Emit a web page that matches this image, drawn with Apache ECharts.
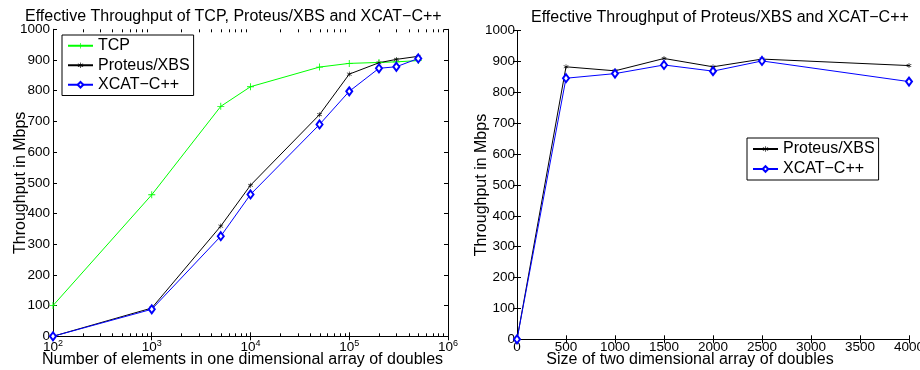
<!DOCTYPE html>
<html>
<head>
<meta charset="utf-8">
<script src="https://cdn.jsdelivr.net/npm/echarts@6/dist/echarts.min.js"></script>
<style>html,body{margin:0;padding:0;background:#fff}#c{width:920px;height:370px}</style>
</head>
<body>
<div id="c"></div>
<script>
// ---- Left chart data (log x axis) ----
const sizes1D = [100, 1000, 5000, 10000, 50000, 100000, 200000, 300000, 500000];
const tcpVals = [100, 461, 749, 813, 877, 889, 892, 894, 898];
const proteus1D = [0, 92, 359, 492, 722, 854, 891, 902, 912];
const xcat1D = [0, 88, 326, 462, 690, 798, 873, 878, 905];
const minorTickVals = [200,300,400,500,600,700,800,900,2000,3000,4000,5000,6000,7000,8000,9000,20000,30000,40000,50000,60000,70000,80000,90000,200000,300000,400000,500000,600000,700000,800000,900000];

// ---- Right chart data ----
const sizes2D = [0, 500, 1000, 1500, 2000, 2500, 4000];
const proteus2D = [0, 883, 870, 910, 883, 908, 887];
const xcat2D = [0, 846, 861, 889, 869, 902, 835];

const titles = ['Effective Throughput of TCP, Proteus/XBS and XCAT\u2212C++', 'Effective Throughput of Proteus/XBS and XCAT\u2212C++'];
const xNames = ['Number of elements in one dimensional array of doubles', 'Size of two dimensional array of doubles'];
const yName = 'Throughput in Mbps';
const names = ['TCP', 'Proteus/XBS', 'XCAT\u2212C++'];

const FF = '"Liberation Sans", Arial, Helvetica, sans-serif';
const TICK_FS = 13.5;
const pair = (xs, ys) => xs.map((x, i) => [x, ys[i]]);
const plusPath = 'path://M4.4,0H5.6V4.4H10V5.6H5.6V10H4.4V5.6H0V4.4H4.4Z';
const starPath = 'path://M4.5,0H5.5V3.8L8.8,1.9L9.3,2.8L6,4.9V5.1L9.3,7.2L8.8,8.1L5.5,6.2V10H4.5V6.2L1.2,8.1L0.7,7.2L4,5.1V4.9L0.7,2.8L1.2,1.9L4.5,3.8Z';

const axisLine = {show: true, lineStyle: {color: '#000', width: 1}};
const tickIn = {show: true, inside: true, length: 4, lineStyle: {color: '#000', width: 1}};
const plain = v => String(v);

function yAxes(gridIndex, labelMargin, nameGap) {
  return [
    {type: 'value', gridIndex, min: 0, max: 1000, interval: 100, position: 'left',
     name: yName, nameLocation: 'middle', nameGap, nameRotate: 90, nameMoveOverlap: false,
     nameTextStyle: {fontFamily: FF, fontSize: 16, color: '#000'},
     axisLine, axisTick: tickIn, splitLine: {show: false},
     axisLabel: {fontFamily: FF, fontSize: TICK_FS, color: '#000', margin: labelMargin, formatter: plain}},
    {type: 'value', gridIndex, min: 0, max: 1000, interval: 100, position: 'right',
     axisLine, axisTick: tickIn, splitLine: {show: false}, axisLabel: {show: false}}
  ];
}

const option = {
  backgroundColor: '#fff',
  animation: false,
  title: [
    {text: titles[0], left: 25, top: 9, padding: 0, textStyle: {fontFamily: FF, fontSize: 16, fontWeight: 'normal', color: '#000'}},
    {text: titles[1], left: 531, top: 10, padding: 0, textStyle: {fontFamily: FF, fontSize: 16, fontWeight: 'normal', color: '#000'}}
  ],
  grid: [
    {left: 53, top: 29.3, width: 395, height: 307, outerBoundsMode: 'none', containLabel: false},
    {left: 517, top: 30.7, width: 392, height: 308.6, outerBoundsMode: 'none', containLabel: false}
  ],
  legend: [
    {data: names, orient: 'vertical', left: 62, top: 35, itemWidth: 25, itemHeight: 7, itemGap: 0,
     padding: [1, 4, 1, 5], borderColor: '#000', borderWidth: 1, backgroundColor: '#fff',
     textStyle: {fontFamily: FF, fontSize: 16, color: '#000', lineHeight: 19.5}},
    {data: names.slice(1), orient: 'vertical', left: 747, top: 138, itemWidth: 25, itemHeight: 7, itemGap: 0,
     padding: [1, 4, 1, 5], borderColor: '#000', borderWidth: 1, backgroundColor: '#fff',
     textStyle: {fontFamily: FF, fontSize: 16, color: '#000', lineHeight: 20}}
  ],
  xAxis: [
    {type: 'log', gridIndex: 0, logBase: 10, min: 100, max: 1000000, position: 'bottom',
     name: xNames[0], nameLocation: 'middle', nameGap: 15, nameMoveOverlap: false,
     nameTextStyle: {fontFamily: FF, fontSize: 16, color: '#000', padding: [0, 16, 0, 0]},
     axisLine, axisTick: tickIn, splitLine: {show: false}, minorTick: {show: false},
     axisLabel: {color: '#000', margin: 3,
       formatter: v => '{b|10}{s|' + Math.round(Math.log10(v)) + '}',
       rich: {b: {fontFamily: FF, fontSize: TICK_FS, lineHeight: 16, color: '#000'},
              s: {fontFamily: FF, fontSize: 9, lineHeight: 16, verticalAlign: 'top', color: '#000'}}}},
    {type: 'log', gridIndex: 0, logBase: 10, min: 100, max: 1000000, position: 'top',
     axisLine, axisTick: tickIn, splitLine: {show: false}, axisLabel: {show: false}},
    {type: 'value', gridIndex: 1, min: 0, max: 4000, interval: 500, position: 'bottom',
     name: xNames[1], nameLocation: 'middle', nameGap: 12, nameMoveOverlap: false,
     nameTextStyle: {fontFamily: FF, fontSize: 16, color: '#000', padding: [0, 46, 0, 0]},
     axisLine, axisTick: tickIn, splitLine: {show: false},
     axisLabel: {fontFamily: FF, fontSize: TICK_FS, color: '#000', margin: 1, formatter: plain}},
    {type: 'value', gridIndex: 1, min: 0, max: 4000, interval: 500, position: 'top',
     axisLine, axisTick: tickIn, splitLine: {show: false}, axisLabel: {show: false}}
  ],
  yAxis: [].concat(yAxes(0, 3, 24), yAxes(1, 2, 27)),
  series: [
    {name: names[0], type: 'line', xAxisIndex: 0, yAxisIndex: 0, data: pair(sizes1D, tcpVals),
     symbol: plusPath, symbolSize: 7, lineStyle: {color: '#00ff00', width: 1}, itemStyle: {color: '#00ff00'}},
    {name: names[1], type: 'line', xAxisIndex: 0, yAxisIndex: 0, data: pair(sizes1D, proteus1D),
     symbol: starPath, symbolSize: 5, lineStyle: {color: '#000', width: 1}, itemStyle: {color: '#000'}},
    {name: names[2], type: 'line', xAxisIndex: 0, yAxisIndex: 0, data: pair(sizes1D, xcat1D),
     symbol: 'emptyDiamond', symbolSize: [6, 8], lineStyle: {color: '#0000ff', width: 1}, itemStyle: {color: '#0000ff', borderWidth: 1}},
    {name: names[1], type: 'line', xAxisIndex: 2, yAxisIndex: 2, data: pair(sizes2D, proteus2D),
     symbol: starPath, symbolSize: 5, lineStyle: {color: '#000', width: 1}, itemStyle: {color: '#000'}},
    {name: names[2], type: 'line', xAxisIndex: 2, yAxisIndex: 2, data: pair(sizes2D, xcat2D),
     symbol: 'emptyDiamond', symbolSize: [6, 8], lineStyle: {color: '#0000ff', width: 1}, itemStyle: {color: '#0000ff', borderWidth: 1}},
    {name: 'minorTicks', type: 'custom', xAxisIndex: 0, yAxisIndex: 0, silent: true, z: 1, clip: false,
     data: minorTickVals.map(v => [v]),
     renderItem: (params, api) => {
       const b = api.coord([api.value(0), 0]);
       const t = api.coord([api.value(0), 1000]);
       const x = Math.round(b[0]) + 0.5;
       return {type: 'group', children: [
         {type: 'line', shape: {x1: x, y1: b[1], x2: x, y2: b[1] - 3}, style: {stroke: '#000', lineWidth: 1}},
         {type: 'line', shape: {x1: x, y1: t[1], x2: x, y2: t[1] + 3}, style: {stroke: '#000', lineWidth: 1}}
       ]};
     }}
  ]
};
const chart = echarts.init(document.getElementById('c'), null, {renderer: 'canvas'});
chart.setOption(option);
</script>
</body>
</html>
